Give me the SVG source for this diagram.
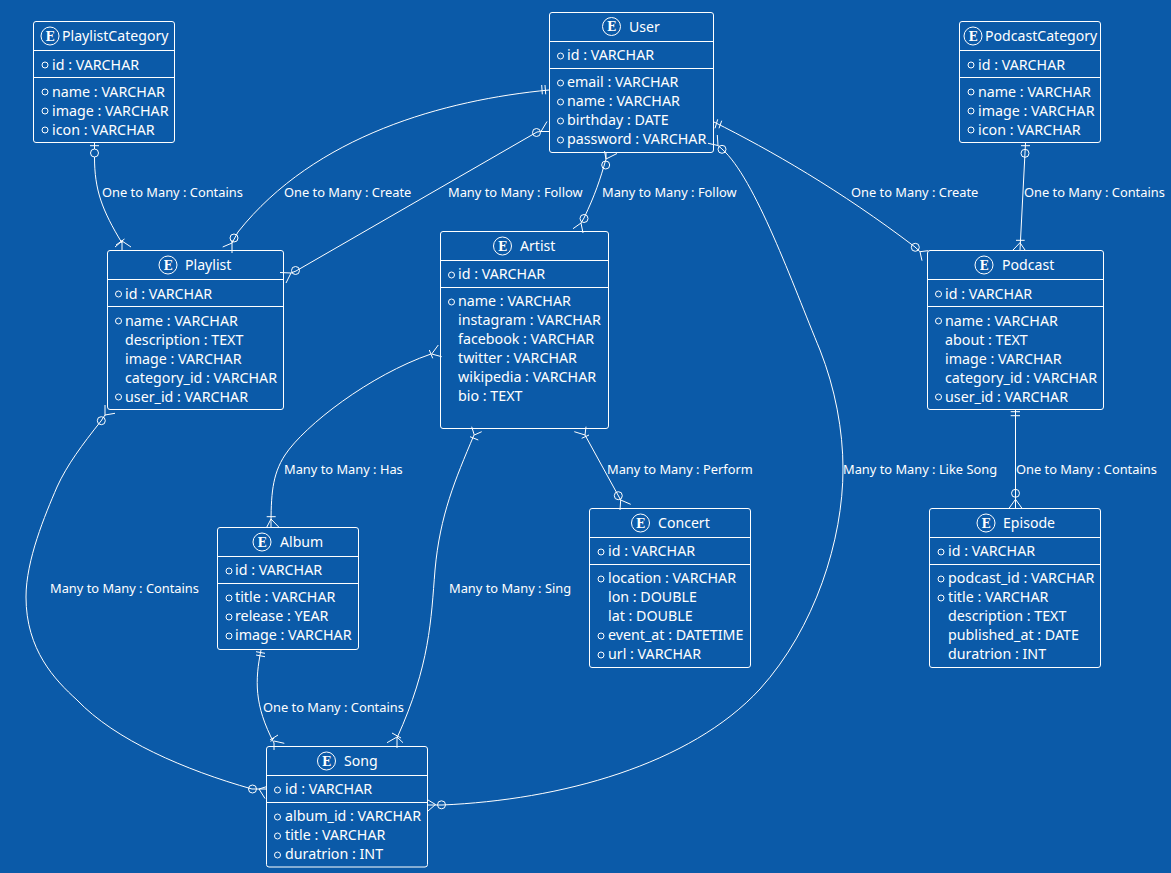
<svg xmlns="http://www.w3.org/2000/svg" width="1171" height="873" viewBox="0 0 1171 873">
<style>
text{font-family:"Noto Sans",sans-serif;fill:#fff}
.t{font-size:14.1px}
.a{font-size:14.25px}
.l{font-size:12.85px}
.e{font-family:"DejaVu Serif",serif;font-size:12px;font-weight:bold;text-anchor:middle}
.b{fill:none;stroke:#fff;stroke-width:1}
.v{fill:none;stroke:#fff;stroke-width:1}
</style>
<rect width="1171" height="873" fill="#0B5AA8"/>
<g id="connectors" class="v">
<!-- PlaylistCategory - Playlist -->
<path d="M94.5,143V149M94.5,157C94.5,190 102,210 122,243M90,145.7H99M116,245L124.5,239M122,240V250M122,241L131,247M122,241L115,247"/>
<circle cx="94.5" cy="153" r="4"/>
<!-- User - Playlist -->
<path d="M549,90C445,100 315,135 238,232L232,243M541.7,85L542.3,94.3M545,85L545.7,94.3M232,243L222.7,247M232,240V253"/>
<circle cx="234" cy="238" r="4"/>
<!-- Playlist - User -->
<path d="M549,131.5H541L537,132L296,271L291,273M541,131.5L547,121.5M291,273L280,272.5M291,273L286,283"/>
<circle cx="536.5" cy="132.5" r="4"/><circle cx="295.5" cy="270.5" r="4"/>
<!-- User - Artist -->
<path d="M606,152V159C600,180 595,195 584,218L581,223M606,159L604.5,151M606,159L617,153.5M581,223L573,228.7M581,223L583,233"/>
<circle cx="605.7" cy="165" r="4"/><circle cx="584" cy="218.5" r="4"/>
<!-- User - Song -->
<path d="M718,145.5L722,149C755,178 793,285 820,350C835,388 843,430 843,469C843,540 815,628 760,689C690,765 560,800 442,805H428M718,145.5L708,143.3M718,145.5L717.3,135M435.5,804.5L428,800M435.5,804.5L428,811"/>
<circle cx="722" cy="149.3" r="4"/><circle cx="441.5" cy="804.8" r="4"/>
<!-- User - Podcast -->
<path d="M714,122C770,150 840,190 915,247L920,251.7M717.7,119.3L715,128.3M721.7,120.7L719,128.3M920,251.7L928,250.7M920,251.7L922,260.7"/>
<circle cx="915.3" cy="247.3" r="4"/>
<!-- PodcastCategory - Podcast -->
<path d="M1025.5,143L1020,250M1021,145.7H1030M1016,240.3H1024.7M1020,242.7L1013,250M1020,242.7L1025,250"/>
<circle cx="1025" cy="153.3" r="4"/>
<!-- Playlist - Song -->
<path d="M105,415L101,421C82,445 67,465 57,487C45,515 26,560 26,597C26,650 55,680 77,700C115,740 185,770 252,789H266M105,405V415.5M105,415L115,413.3M259,789L267,786.5M259,789L265,798.5"/>
<circle cx="101.3" cy="420.7" r="4"/><circle cx="252.5" cy="789" r="4"/>
<!-- Artist - Album -->
<path d="M431,354C370,375 305,425 285,455C272,475 271,495 271,527.5M431.7,354L441.7,356.7M431.7,354L438.3,345M429.3,350L432.7,358.3M266.7,516.7H275.7M271,519L266.7,527.3M271,519L279,527.3"/>
<!-- Artist - Song -->
<path d="M474,435C455,480 440,515 435,570C431,620 430,665 397,738V748M474.3,435L471.7,426.7M474.3,435L481.7,431.7M470,436.7L478.3,440M397,737L387,742.7M397,737L403,742.7M392,733L401,738"/>
<!-- Artist - Concert -->
<path d="M585,435L620.7,500L620,510M585,435L574.3,431.7M585,435L586,426.7M581.7,438.3L589,435M620.7,500L630.7,504.3"/>
<circle cx="618.3" cy="495.7" r="4"/>
<!-- Album - Song -->
<path d="M261,650C255,680 254,705 274,743V750M256,651.7L265,653.3M256,655L265,656.7M270,740L278,735M274,741L284.3,743.3M274,738L270.7,741.7"/>
<!-- Podcast - Episode -->
<path d="M1015.5,410V508.5M1010.7,411.7H1020M1010.7,415.7H1020M1015.5,499.3L1009,508.3M1015.5,499.3L1022,508.3"/>
<circle cx="1015.5" cy="493.3" r="4"/>
</g>
<g id="labels" class="l">
<text x="102" y="196.5">One to Many : Contains</text>
<text x="284" y="196.5">One to Many : Create</text>
<text x="448" y="196.5">Many to Many : Follow</text>
<text x="602" y="196.5">Many to Many : Follow</text>
<text x="851" y="196.5">One to Many : Create</text>
<text x="1024" y="196.5">One to Many : Contains</text>
<text x="284" y="474">Many to Many : Has</text>
<text x="607" y="474">Many to Many : Perform</text>
<text x="843" y="474">Many to Many : Like Song</text>
<text x="1016" y="474">One to Many : Contains</text>
<text x="50" y="593">Many to Many : Contains</text>
<text x="449" y="593">Many to Many : Sing</text>
<text x="263" y="712">One to Many : Contains</text>
</g>
<g id="PlaylistCategory">
<rect class="b" x="33.5" y="21.5" width="141" height="121" rx="2.5"/><path class="b" d="M33.5,50.5H174.5M33.5,77.5H174.5"/>
<circle class="b" cx="50" cy="36" r="9"/><text class="e" x="50" y="40.5">E</text><text class="t" x="62" y="41">PlaylistCategory</text>
<circle class="b" cx="45" cy="65" r="3"/><text class="a" x="52" y="70">id : VARCHAR</text>
<circle class="b" cx="45" cy="92" r="3"/><text class="a" x="52" y="97">name : VARCHAR</text>
<circle class="b" cx="45" cy="111" r="3"/><text class="a" x="52" y="116">image : VARCHAR</text>
<circle class="b" cx="45" cy="130" r="3"/><text class="a" x="52" y="135">icon : VARCHAR</text>
</g>
<g id="User">
<rect class="b" x="549.5" y="12.5" width="164" height="140" rx="2.5"/><path class="b" d="M549.5,41.5H713.5M549.5,68.5H713.5"/>
<circle class="b" cx="611.5" cy="26.5" r="9"/><text class="e" x="611.5" y="31">E</text><text class="t" x="629" y="32">User</text>
<circle class="b" cx="560.5" cy="56" r="3"/><text class="a" x="567" y="60">id : VARCHAR</text>
<circle class="b" cx="560.5" cy="83" r="3"/><text class="a" x="567" y="87">email : VARCHAR</text>
<circle class="b" cx="560.5" cy="102" r="3"/><text class="a" x="567" y="106">name : VARCHAR</text>
<circle class="b" cx="560.5" cy="121" r="3"/><text class="a" x="567" y="125">birthday : DATE</text>
<circle class="b" cx="560.5" cy="140" r="3"/><text class="a" x="567" y="144">password : VARCHAR</text>
</g>
<g id="PodcastCategory">
<rect class="b" x="959.5" y="21.5" width="141" height="121" rx="2.5"/><path class="b" d="M959.5,50.5H1100.5M959.5,77.5H1100.5"/>
<circle class="b" cx="973" cy="36" r="9"/><text class="e" x="973" y="40.5">E</text><text class="t" x="985" y="41">PodcastCategory</text>
<circle class="b" cx="971" cy="65" r="3"/><text class="a" x="978" y="70">id : VARCHAR</text>
<circle class="b" cx="971" cy="92" r="3"/><text class="a" x="978" y="97">name : VARCHAR</text>
<circle class="b" cx="971" cy="111" r="3"/><text class="a" x="978" y="116">image : VARCHAR</text>
<circle class="b" cx="971" cy="130" r="3"/><text class="a" x="978" y="135">icon : VARCHAR</text>
</g>
<g id="Playlist">
<rect class="b" x="107.5" y="250.5" width="176" height="159" rx="2.5"/><path class="b" d="M107.5,279.5H283.5M107.5,306.5H283.5"/>
<circle class="b" cx="168" cy="265" r="9"/><text class="e" x="168" y="269.5">E</text><text class="t" x="185" y="270">Playlist</text>
<circle class="b" cx="118.5" cy="294" r="3"/><text class="a" x="125" y="299">id : VARCHAR</text>
<circle class="b" cx="118.5" cy="321" r="3"/><text class="a" x="125" y="326">name : VARCHAR</text>
<text class="a" x="125" y="345">description : TEXT</text>
<text class="a" x="125" y="364">image : VARCHAR</text>
<text class="a" x="125" y="383">category_id : VARCHAR</text>
<circle class="b" cx="118.5" cy="397" r="3"/><text class="a" x="125" y="402">user_id : VARCHAR</text>
</g>
<g id="Artist">
<rect class="b" x="440.5" y="231.5" width="168" height="197" rx="2.5"/><path class="b" d="M440.5,260.5H608.5M440.5,287.5H608.5"/>
<circle class="b" cx="502.5" cy="246" r="9"/><text class="e" x="502.5" y="250.5">E</text><text class="t" x="520" y="251">Artist</text>
<circle class="b" cx="451.5" cy="275" r="3"/><text class="a" x="458" y="279">id : VARCHAR</text>
<circle class="b" cx="451.5" cy="302" r="3"/><text class="a" x="458" y="306">name : VARCHAR</text>
<text class="a" x="458" y="325">instagram : VARCHAR</text>
<text class="a" x="458" y="344">facebook : VARCHAR</text>
<text class="a" x="458" y="363">twitter : VARCHAR</text>
<text class="a" x="458" y="382">wikipedia : VARCHAR</text>
<text class="a" x="458" y="401">bio : TEXT</text>
</g>
<g id="Podcast">
<rect class="b" x="927.5" y="250.5" width="176" height="159" rx="2.5"/><path class="b" d="M927.5,279.5H1103.5M927.5,306.5H1103.5"/>
<circle class="b" cx="984" cy="265" r="9"/><text class="e" x="984" y="269.5">E</text><text class="t" x="1002" y="270">Podcast</text>
<circle class="b" cx="938.5" cy="294" r="3"/><text class="a" x="945" y="299">id : VARCHAR</text>
<circle class="b" cx="938.5" cy="321" r="3"/><text class="a" x="945" y="326">name : VARCHAR</text>
<text class="a" x="945" y="345">about : TEXT</text>
<text class="a" x="945" y="364">image : VARCHAR</text>
<text class="a" x="945" y="383">category_id : VARCHAR</text>
<circle class="b" cx="938.5" cy="397" r="3"/><text class="a" x="945" y="402">user_id : VARCHAR</text>
</g>
<g id="Album">
<rect class="b" x="217.5" y="527.5" width="141" height="122" rx="2.5"/><path class="b" d="M217.5,556.5H358.5M217.5,583.5H358.5"/>
<circle class="b" cx="262" cy="542" r="9"/><text class="e" x="262" y="546.5">E</text><text class="t" x="280" y="547">Album</text>
<circle class="b" cx="229" cy="571" r="3"/><text class="a" x="235" y="575">id : VARCHAR</text>
<circle class="b" cx="229" cy="598" r="3"/><text class="a" x="235" y="602">title : VARCHAR</text>
<circle class="b" cx="229" cy="617" r="3"/><text class="a" x="235" y="621">release : YEAR</text>
<circle class="b" cx="229" cy="636" r="3"/><text class="a" x="235" y="640">image : VARCHAR</text>
</g>
<g id="Concert">
<rect class="b" x="589.5" y="508.5" width="161" height="159" rx="2.5"/><path class="b" d="M589.5,537.5H750.5M589.5,564.5H750.5"/>
<circle class="b" cx="640.5" cy="523" r="9"/><text class="e" x="640.5" y="527.5">E</text><text class="t" x="658" y="528">Concert</text>
<circle class="b" cx="601" cy="552" r="3"/><text class="a" x="608" y="556">id : VARCHAR</text>
<circle class="b" cx="601" cy="579" r="3"/><text class="a" x="608" y="583">location : VARCHAR</text>
<text class="a" x="608" y="602">lon : DOUBLE</text>
<text class="a" x="608" y="621">lat : DOUBLE</text>
<circle class="b" cx="601" cy="636" r="3"/><text class="a" x="608" y="640">event_at : DATETIME</text>
<circle class="b" cx="601" cy="655" r="3"/><text class="a" x="608" y="659">url : VARCHAR</text>
</g>
<g id="Episode">
<rect class="b" x="929.5" y="508.5" width="171" height="159" rx="2.5"/><path class="b" d="M929.5,537.5H1100.5M929.5,564.5H1100.5"/>
<circle class="b" cx="986" cy="523" r="9"/><text class="e" x="986" y="527.5">E</text><text class="t" x="1003" y="528">Episode</text>
<circle class="b" cx="941" cy="552" r="3"/><text class="a" x="948" y="556">id : VARCHAR</text>
<circle class="b" cx="941" cy="579" r="3"/><text class="a" x="948" y="583">podcast_id : VARCHAR</text>
<circle class="b" cx="941" cy="598" r="3"/><text class="a" x="948" y="602">title : VARCHAR</text>
<text class="a" x="948" y="621">description : TEXT</text>
<text class="a" x="948" y="640">published_at : DATE</text>
<text class="a" x="948" y="659">duratrion : INT</text>
</g>
<g id="Song">
<rect class="b" x="266.5" y="746.5" width="161" height="120.5" rx="2.5"/><path class="b" d="M266.5,775.5H427.5M266.5,802.5H427.5"/>
<circle class="b" cx="326.5" cy="761" r="9"/><text class="e" x="326.5" y="765.5">E</text><text class="t" x="344" y="766">Song</text>
<circle class="b" cx="277.5" cy="790" r="3"/><text class="a" x="285" y="794">id : VARCHAR</text>
<circle class="b" cx="277.5" cy="817" r="3"/><text class="a" x="285" y="821">album_id : VARCHAR</text>
<circle class="b" cx="277.5" cy="836" r="3"/><text class="a" x="285" y="840">title : VARCHAR</text>
<circle class="b" cx="277.5" cy="855" r="3"/><text class="a" x="285" y="859">duratrion : INT</text>
</g>
</svg>
